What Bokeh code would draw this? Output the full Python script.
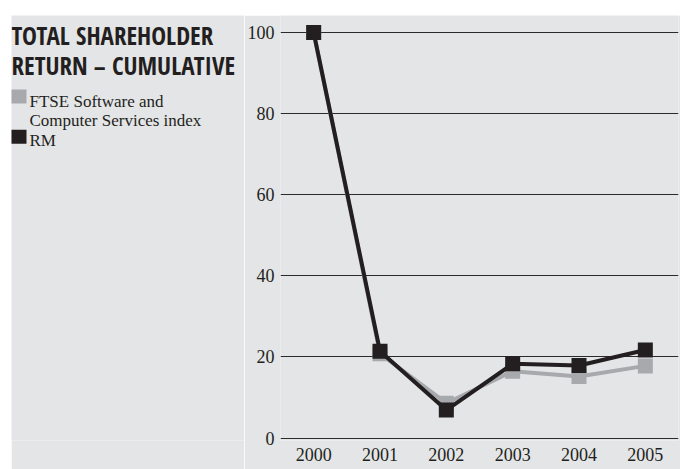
from bokeh.plotting import figure
from bokeh.models import Spacer, FixedTicker, Range1d
from bokeh.layouts import row, column
from bokeh.core.properties import value
from bokeh.embed import file_html
from bokeh.resources import INLINE

years = [2000, 2001, 2002, 2003, 2004, 2005]
ftse = [100, 20.8, 8.6, 16.5, 15.2, 17.8]
rm = [100, 21.4, 6.9, 18.3, 17.9, 21.7]
y_ticks = [0, 20, 40, 60, 80, 100]
title_lines = ["TOTAL SHAREHOLDER", "RETURN \u2013 CUMULATIVE"]
legend_labels = [["FTSE Software and", "Computer Services index"], ["RM"]]

BG = "#e4e5e7"
GREY = "#a7a9ac"
BLACK = "#231f20"
SERIF = "Liberation Serif"
SPLIT = 244

# ---- left panel: title and legend (data units == page pixels)
q = figure(width=SPLIT - 11, height=454, output_backend="svg", toolbar_location=None,
           x_range=Range1d(11, SPLIT), y_range=Range1d(469, 15),
           min_border=0, min_border_left=0, min_border_right=0, min_border_top=0, min_border_bottom=0)
q.axis.visible = False
q.grid.visible = False
q.background_fill_color = BG
q.border_fill_color = BG
q.outline_line_color = None

q.text(x=[11, 11], y=[36, 68], text=title_lines, text_font=value("Open Sans Condensed"),
       text_font_style="bold", text_font_size="25px", text_color=BLACK, text_baseline="alphabetic")

leg_text = [legend_labels[0][0], legend_labels[0][1], legend_labels[1][0]]
q.text(x=[29, 29, 29], y=[107, 127.5, 149], text=leg_text, text_font=value(SERIF),
       text_font_size="17px", text_color=BLACK, text_baseline="alphabetic")
q.quad(left=[10, 10], right=[26, 26], top=[94, 137], bottom=[109, 152],
       fill_color=[GREY, BLACK], line_color=None)

# ---- right panel: chart
p = figure(width=680 - SPLIT, height=454, output_backend="svg", toolbar_location=None,
           x_range=Range1d(1999.5, 2005.5), y_range=Range1d(-0.6, 104.2),
           min_border_left=279 - SPLIT, min_border_right=2, min_border_top=0, min_border_bottom=29)
p.background_fill_color = BG
p.border_fill_color = BG
p.outline_line_color = None

p.xgrid.grid_line_color = None
p.ygrid.grid_line_color = "#2a2a2a"
p.ygrid.grid_line_width = 1.2
p.ygrid.ticker = FixedTicker(ticks=y_ticks)

p.yaxis.ticker = FixedTicker(ticks=y_ticks)
p.xaxis.ticker = FixedTicker(ticks=years)
for ax in (p.xaxis[0], p.yaxis[0]):
    ax.axis_line_color = None
    ax.major_tick_line_color = None
    ax.minor_tick_line_color = None
    ax.major_tick_out = 0
    ax.major_tick_in = 0
    ax.minor_tick_out = 0
    ax.minor_tick_in = 0
    ax.major_label_text_font = SERIF
    ax.major_label_text_font_size = "18px"
    ax.major_label_text_color = BLACK
p.yaxis.major_label_standoff = 6
p.xaxis.major_label_standoff = 7

p.line(years, ftse, line_color=GREY, line_width=4)
p.scatter(years, ftse, marker="square", size=15, fill_color=GREY, line_color=None)
p.line(years, rm, line_color=BLACK, line_width=4)
p.scatter(years, rm, marker="square", size=15, fill_color=BLACK, line_color=None)

layout = column(Spacer(height=15), row(Spacer(width=11), q, p))
open("out.html", "w").write(file_html(layout, INLINE))
